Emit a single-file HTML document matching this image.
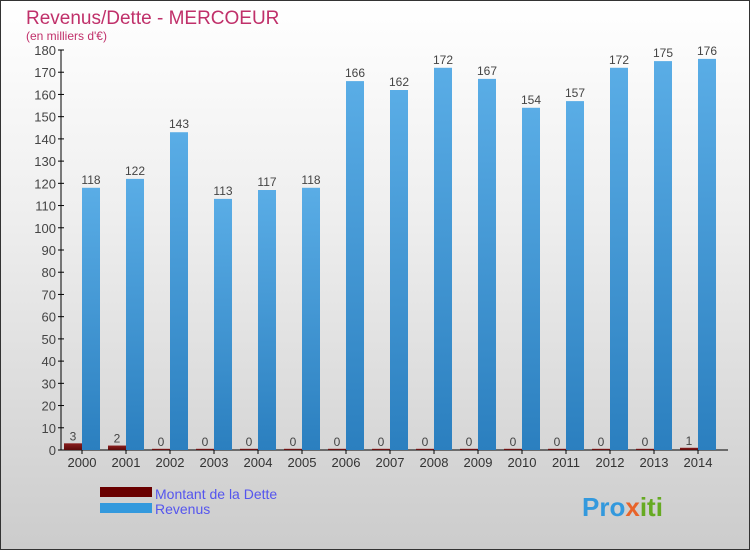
<!DOCTYPE html>
<html><head><meta charset="utf-8"><style>
body{margin:0;width:750px;height:550px;overflow:hidden;font-family:"Liberation Sans",sans-serif}
#wrap{position:absolute;left:0;top:0;width:748px;height:548px;border:1px solid #333;background:linear-gradient(#ffffff 0%,#eeeeee 40%,#cccccc 100%)}
</style></head><body>
<div id="wrap">
<svg id="c" width="750" height="550" style="position:absolute;left:-1px;top:-1px">
<defs>
<linearGradient id="gb" x1="0" y1="0" x2="0" y2="1"><stop offset="0" stop-color="#5aade6"/><stop offset="1" stop-color="#2b7fbf"/></linearGradient>
<linearGradient id="gd" x1="0" y1="0" x2="0" y2="1"><stop offset="0" stop-color="#8a1d1d"/><stop offset="1" stop-color="#5c0a0a"/></linearGradient>
</defs>
<text x="26" y="24" font-size="19" fill="#c0306a">Revenus/Dette - MERCOEUR</text>
<text x="26" y="40" font-size="12" fill="#c0306a">(en milliers d'€)</text>
<g id="axes"></g><g id="bars"></g>
<rect x="100" y="487" width="52" height="10" fill="#6a0000"/>
<rect x="100" y="503" width="52" height="10" fill="#3399dd"/>
<text x="155" y="499" font-size="14" fill="#5555ee">Montant de la Dette</text>
<text x="155" y="514" font-size="14" fill="#5555ee">Revenus</text>
<text x="582" y="516" font-size="26" font-weight="bold" fill="#3399dd">Pro<tspan fill="#e8642a">x</tspan><tspan fill="#66aa22">iti</tspan></text>
</svg></div>
<script>
const years=["2000","2001","2002","2003","2004","2005","2006","2007","2008","2009","2010","2011","2012","2013","2014"];
const revenus=[118,122,143,113,117,118,166,162,172,167,154,157,172,175,176];
const dette=[3,2,0,0,0,0,0,0,0,0,0,0,0,0,1];
const yTicks=[0,10,20,30,40,50,60,70,80,90,100,110,120,130,140,150,160,170,180];
const NS="http://www.w3.org/2000/svg";
const y=v=>450-v*400/180, x=i=>82+44*i;
function mk(t,a,p){const e=document.createElementNS(NS,t);for(const k in a)e.setAttribute(k,a[k]);p.appendChild(e);return e;}
const ax=document.getElementById('axes'),bs=document.getElementById('bars');
let l=mk('line',{x1:61,y1:50,x2:61,y2:450,stroke:'#000'},ax);


l=mk('line',{x1:61,y1:450,x2:728,y2:450,stroke:'#000'},ax);


yTicks.forEach(v=>{
 mk('line',{x1:58,x2:64,y1:y(v),y2:y(v),stroke:'#000'},ax);
 const t=mk('text',{x:56,y:y(v)+5,'font-size':13,'text-anchor':'end',fill:'#444'},ax);t.textContent=v;
 
 
});
years.forEach((yr,i)=>{
 mk('line',{x1:x(i),x2:x(i),y1:450,y2:454,stroke:'#000'},ax);
 const t=mk('text',{x:x(i),y:467,'font-size':13,'text-anchor':'middle',fill:'#333'},ax);t.textContent=yr;
 
 
 const hd=Math.max(dette[i]*400/180,1.2);
 const d=mk('rect',{x:x(i)-18,y:450-hd,width:18,height:hd,fill:'url(#gd)'},bs);
 
 
 const r=mk('rect',{x:x(i),y:y(revenus[i]),width:18,height:450-y(revenus[i]),fill:'url(#gb)'},bs);
 
 
 const tl=mk('text',{x:x(i)+9,y:y(revenus[i])-4,'font-size':12,'text-anchor':'middle',fill:'#444'},bs);tl.textContent=revenus[i];
 
 
 const td=mk('text',{x:x(i)-9,y:450-hd-3,'font-size':12,'text-anchor':'middle',fill:'#444'},bs);td.textContent=dette[i];
 
 
});
</script>
</body></html>
